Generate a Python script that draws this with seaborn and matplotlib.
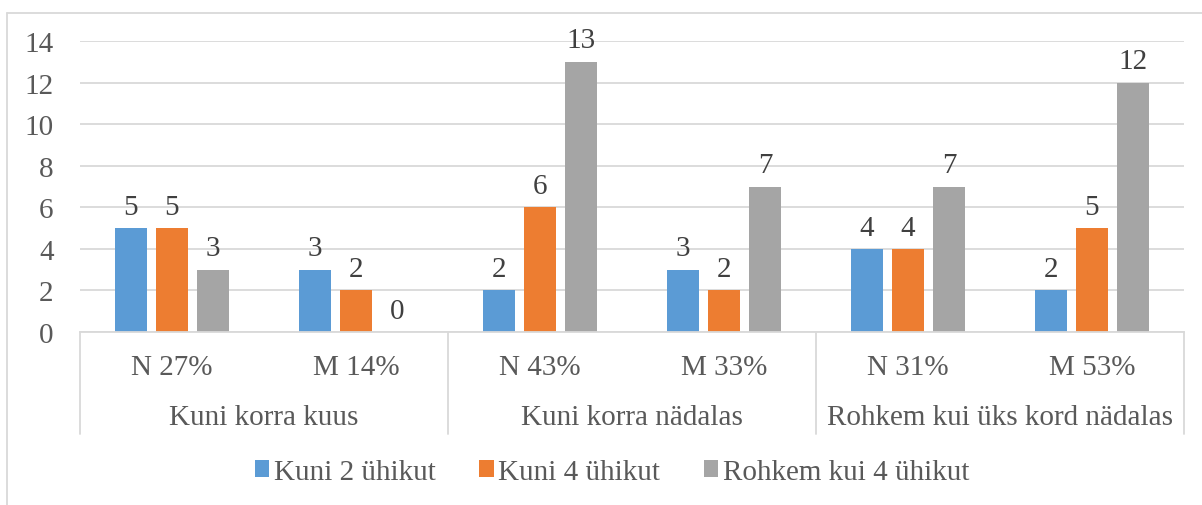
import pandas as pd
import matplotlib.pyplot as plt
import seaborn as sns
from matplotlib.patches import Patch
from matplotlib.lines import Line2D

# data
groups = ["Kuni korra kuus", "Kuni korra nädalas", "Rohkem kui üks kord nädalas"]
categories = ["N 27%", "M 14%", "N 43%", "M 33%", "N 31%", "M 53%"]
series = ["Kuni 2 ühikut", "Kuni 4 ühikut", "Rohkem kui 4 ühikut"]
kuni2 = [5, 3, 2, 3, 4, 2]
kuni4 = [5, 2, 6, 2, 4, 5]
rohkem4 = [3, 0, 13, 7, 7, 12]
colors = ["#5B9BD5", "#ED7D31", "#A5A5A5"]

rows = []
for name, vals in zip(series, [kuni2, kuni4, rohkem4]):
    for cat, v in zip(categories, vals):
        rows.append({"cat": cat, "series": name, "value": v})
df = pd.DataFrame(rows)

sns.set_style("white")
plt.rcParams["font.family"] = ["Liberation Serif", "DejaVu Serif"]
FS = 21
tick_col = "#595959"
lab_col = "#404040"
grid_col = "#D9D9D9"

fig = plt.figure(figsize=(12.02, 5.06), dpi=100)
ax = fig.add_axes([80 / 1202, 1 - 333 / 506, (1184 - 80) / 1202, (333 - 42) / 506])

sns.barplot(data=df, x="cat", y="value", hue="series", order=categories,
            hue_order=series, palette=colors, width=0.67, gap=0.22,
            saturation=1, legend=False, linewidth=0, ax=ax)

for cont in ax.containers:
    ax.bar_label(cont, fmt="%d", padding=6, fontsize=FS, color=lab_col)

ax.set_ylim(0, 14)
ax.set_xlim(-0.5, len(categories) - 0.5)
ax.set_yticks(range(0, 15, 2))
ax.yaxis.grid(True, color=grid_col, linewidth=1.3)
ax.set_axisbelow(True)
for s in ["top", "right", "left"]:
    ax.spines[s].set_visible(False)
ax.spines["bottom"].set_color(grid_col)
ax.spines["bottom"].set_linewidth(1.3)
ax.tick_params(axis="y", length=0, pad=19, labelsize=FS, labelcolor=tick_col)
ax.set_xticks([])
ax.set_xlabel("")
ax.set_ylabel("")

# two-level category axis
trans = ax.get_xaxis_transform()
box_bottom = -(435 - 333) / (333 - 42)
for b in [-0.5, 1.5, 3.5, 5.5]:
    ax.add_line(Line2D([b, b], [0, box_bottom], transform=trans, color=grid_col,
                       linewidth=1.3, clip_on=False))
cat_y = -(368 - 333) / (333 - 42)
grp_y = -(418 - 333) / (333 - 42)
for i, cat in enumerate(categories):
    ax.text(i, cat_y, cat, transform=trans, ha="center", va="center",
            fontsize=FS, color=tick_col)
for g, name in enumerate(groups):
    ax.text(2 * g + 0.5, grp_y, name, transform=trans, ha="center", va="center",
            fontsize=FS, color=tick_col)

handles = [Patch(facecolor=c, edgecolor="none") for c in colors]
fig.legend(handles, series, loc="center", bbox_to_anchor=(612 / 1202, 1 - 473 / 506),
           ncol=3, frameon=False, fontsize=FS, labelcolor=tick_col,
           handlelength=0.5, handleheight=0.5, handletextpad=0.15,
           columnspacing=1.5)

# chart area border (top and left visible)
fig.add_artist(Line2D([7 / 1202, 1], [1 - 14 / 506, 1 - 14 / 506],
                      transform=fig.transFigure, color=grid_col, linewidth=1.3))
fig.add_artist(Line2D([7 / 1202, 7 / 1202], [0, 1 - 14 / 506],
                      transform=fig.transFigure, color=grid_col, linewidth=1.3))

fig.savefig("out.png", dpi=100)
